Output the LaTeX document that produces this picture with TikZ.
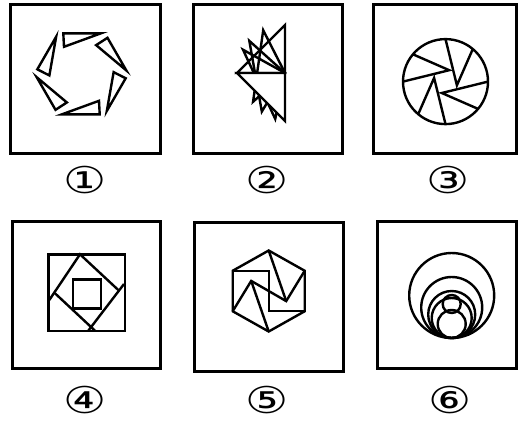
\documentclass[tikz,border=0pt]{standalone}
\usepackage{fontspec}
\newfontfamily\circfont{DejaVu Sans}

\begin{document}
\begin{tikzpicture}[x=1pt,y=-1pt,
  frame/.style={line width=3pt},
  fig/.style={line width=2.4pt, line join=miter},
  lbl/.style={font=\circfont\fontsize{37}{37}\selectfont, inner sep=0pt}]
\useasboundingbox (0,0) rectangle (518,421);

% frames
\draw[frame] (10,4) rectangle (160,153);
\draw[frame] (193,4) rectangle (342,153);
\draw[frame] (373,4) rectangle (516,153);
\draw[frame] (12,221) rectangle (160,368);
\draw[frame] (194,222) rectangle (343,371);
\draw[frame] (377,221) rectangle (516,368);

% figure 1
\begin{scope}[shift={(81.5,73.8)}]
  \foreach \a in {0,60,...,300}
    \draw[fig,rotate=\a] (-18.2,-40.5) -- (19.5,-40.5) -- (-17.5,-27) -- cycle;
\end{scope}

% figure 2
\begin{scope}[shift={(285,73)}]
  \coordinate (piv) at (0,0);
  \foreach \a/\b/\d in {90/180/48,117/222/43,138/239/45,151/258/47}
    \draw[fig] (piv) -- (-\a:48) -- (-\b:\d) -- cycle;
  \filldraw[fig,fill=white] (piv) -- (-180:48) -- (-270:48) -- cycle;
\end{scope}

% figure 3
\begin{scope}[shift={(445.5,81.6)}]
  \draw[fig] (0,0) circle (42.5);
  \foreach \a in {0,90,180,270}
    \draw[fig,rotate=\a] (-32.6,-27.3) -- (3.7,-11.4) -- (-42.5,0);
\end{scope}

% figure 4
\draw[fig] (48.3,254.3) rectangle (125,330.7);
\draw[fig] (72.7,279.3) rectangle (100.7,308.3);
\draw[fig] (49.3,300) -- (80,254.3) -- (118.3,290);
\draw[fig] (124,284) -- (88.3,330.7);
\draw[fig] (55,293.3) -- (95,330.7);

% figure 5
\begin{scope}[shift={(268.7,291)}]
  \draw[fig] (0,-40.5) -- (36,-20.25) -- (36,20.25) -- (0,40.5)
    -- (-36,20.25) -- (-36,-20.25) -- cycle;
  \draw[fig] (-36,-20.25) -- (0,-20.25) -- (0,20.25) -- (36,20.25);
  \draw[fig] (36,-20.25) -- (17.5,10.1) -- (-17.5,-10.1) -- (-36,20.25);
  \draw[fig] (0,-40.5) -- (17.5,10.1);
  \draw[fig] (0,40.5) -- (-17.5,-10.1);
\end{scope}

% figure 6
\foreach \r in {42.5,30.5,23.5,20,14}
  \draw[fig] (451.7,338-\r) circle (\r);
\draw[fig] (451.7,304) circle (9);

% labels
\node[lbl] (lab1) at (85,180) {\scalebox{1.3}[1]{①}};
\node[lbl] (lab2) at (267,180) {\scalebox{1.3}[1]{②}};
\node[lbl] (lab3) at (448,180) {\scalebox{1.3}[1]{③}};
\node[lbl] (lab4) at (85,400) {\scalebox{1.3}[1]{④}};
\node[lbl] (lab5) at (267,400) {\scalebox{1.3}[1]{⑤}};
\node[lbl] (lab6) at (450,400) {\scalebox{1.3}[1]{⑥}};
\end{tikzpicture}
\end{document}
